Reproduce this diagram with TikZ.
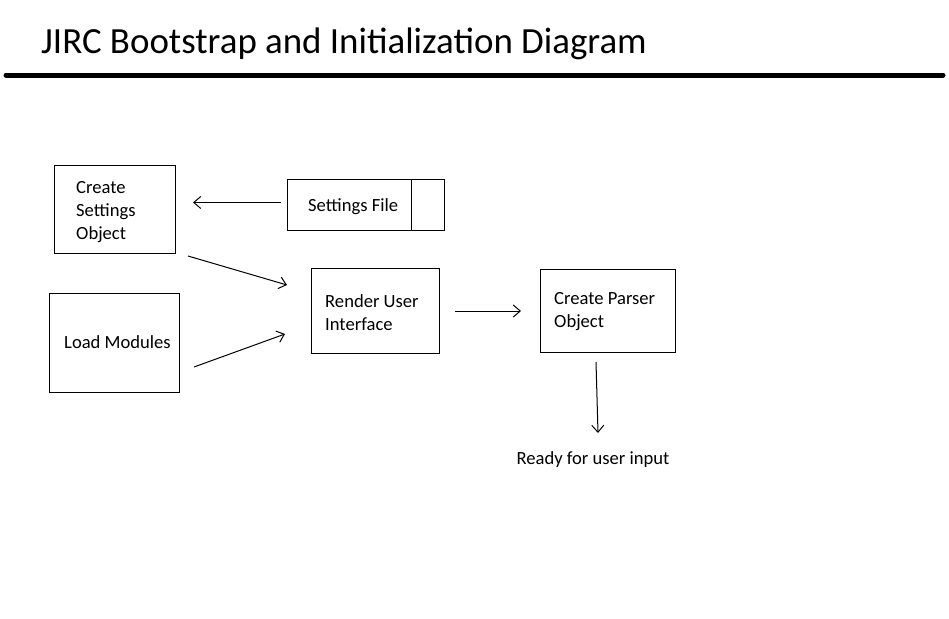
\documentclass[tikz,border=0pt]{standalone}
\usepackage{fontspec}
\setmainfont{Carlito}
\usetikzlibrary{arrows.meta,calc}
\begin{document}
\begin{tikzpicture}[x=1pt,y=-1pt,
  box/.style={draw,line width=1pt,inner sep=0pt,anchor=north west},
  lbl/.style={anchor=west,align=left,inner sep=0pt,font=\fontsize{18.6}{23}\selectfont},
  conn/.style={line width=1pt,-{Straight Barb[length=7pt,width=12pt,line width=1pt]}}]
\useasboundingbox[fill=white] (0,0) rectangle (949,618);
% title
\node[anchor=base west,inner sep=0pt,font=\fontsize{36.9}{40}\selectfont] (title) at (41,53) {JIRC Bootstrap and Initialization Diagram};
\draw[line width=5pt,line cap=round] (6,75) coordinate (r1) -- (943,75) coordinate (r2);
% boxes
\node[box,minimum width=121pt,minimum height=88pt] (cso) at (54,165) {};
\node[box,minimum width=157pt,minimum height=51pt] (sf) at (287,179) {};
\draw[line width=1pt] (411,179) -- (411,231);
\node[box,minimum width=130pt,minimum height=99pt] (lm) at (49,293) {};
\node[box,minimum width=128pt,minimum height=85pt] (rui) at (311,268) {};
\node[box,minimum width=135pt,minimum height=83pt] (cpo) at (540,269) {};
% labels
\node[lbl] (t1) at (76,212) {Create\\Settings\\Object};
\node[lbl] (t2) at (308,207) {Settings File};
\node[lbl] (t3) at (64,342) {Load Modules};
\node[lbl] (t4) at (325,312.5) {Render User\\Interface};
\node[lbl] (t5) at (554,311.5) {Create Parser\\Object};
\node[anchor=center,inner sep=0pt,font=\fontsize{18.6}{23}\selectfont] (ready) at (593,460) {Ready for user input};
% connectors
\coordinate (a1s) at ($(sf.west)+(-6,-2.5)$);
\coordinate (a1e) at ($(cso.east)+(17,-7)$);
\coordinate (a2s) at (188,256);
\coordinate (a2e) at (287,285);
\coordinate (a3s) at (194,367);
\coordinate (a3e) at (285,334);
\coordinate (a4s) at (455,311);
\coordinate (a4e) at (521,311);
\coordinate (a5s) at (596,362);
\coordinate (a5e) at (598,433);
\draw[conn] (a1s) -- (a1e);
\draw[conn] (a2s) -- (a2e);
\draw[conn] (a3s) -- (a3e);
\draw[conn] (a4s) -- (a4e);
\draw[conn] (a5s) -- (a5e);
\end{tikzpicture}
\end{document}
